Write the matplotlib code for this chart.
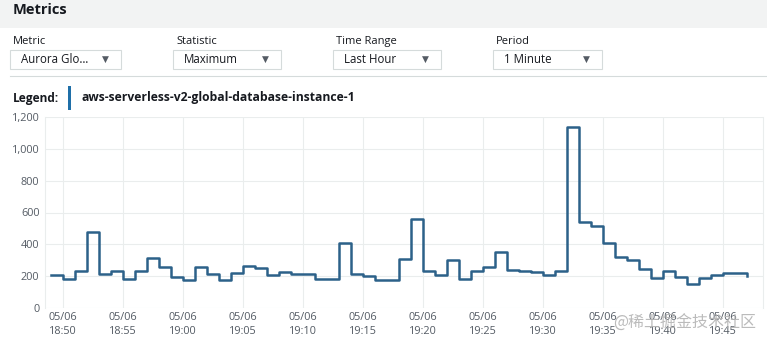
import matplotlib
matplotlib.use("Agg")
import matplotlib.pyplot as plt
import matplotlib.dates as mdates
from matplotlib.patches import Rectangle
import pandas as pd

# maximum value per minute, from 18:49 to 19:47
values = [210, 185, 232, 477, 212, 234, 182, 232, 314, 256,
          197, 174, 260, 214, 176, 222, 266, 251, 205, 228,
          216, 211, 182, 182, 410, 213, 199, 178, 178, 310,
          557, 230, 209, 301, 184, 234, 256, 354, 237, 230,
          224, 207, 230, 1139, 540, 517, 410, 320, 299, 245,
          186, 230, 193, 149, 186, 209, 222, 222, 200]
start_time = "2023-05-06 18:49"
y_ticks = [0, 200, 400, 600, 800, 1000, 1200]
series_name = "aws-serverless-v2-global-database-instance-1"
controls = [("Metric", "Aurora Glo…"), ("Statistic", "Maximum"),
            ("Time Range", "Last Hour"), ("Period", "1 Minute")]

plt.rcParams['font.family'] = ['Open Sans', 'DejaVu Sans']

W, H = 767, 345
fig = plt.figure(figsize=(W / 100, H / 100), dpi=100)
fig.patch.set_facecolor("white")


def fx(x):
    return x / W


def fy(y):
    return 1 - y / H


# header band
fig.patches.append(Rectangle((0, fy(28)), 1, 28 / H, transform=fig.transFigure,
                             facecolor="#f2f3f3", edgecolor="none", zorder=0))
fig.text(fx(13), fy(10.5), "Metrics", fontsize=10.5, fontweight="bold",
         color="#16191f", va="center")

# dropdown controls
box_x = [10, 173, 333, 493]
box_w = [111, 108, 108, 109]
for (label, choice), x0, w in zip(controls, box_x, box_w):
    fig.text(fx(x0 + 3), fy(41.5), label, fontsize=8, color="#16191f", va="center")
    fig.patches.append(Rectangle((fx(x0), fy(69)), w / W, 19 / H,
                                 transform=fig.transFigure, facecolor="white",
                                 edgecolor="#d5dbdb", lw=0.8))
    fig.text(fx(x0 + 11), fy(59.5), choice, fontsize=8.3, color="#16191f", va="center")
    fig.text(fx(x0 + w - 16), fy(59.5), "▼", fontsize=6.5, color="#545b64",
             va="center", ha="center", family="DejaVu Sans")

# separator
fig.lines.append(plt.Line2D([fx(10), 1], [fy(76), fy(76)], transform=fig.transFigure,
                            color="#d5dbdb", lw=0.8))

# legend row
fig.text(fx(13), fy(98), "Legend:", fontsize=8.6, fontweight="bold",
         color="#16191f", va="center")
fig.patches.append(Rectangle((fx(68), fy(110)), 3 / W, 24 / H, transform=fig.transFigure,
                             facecolor="#1f6fa8", edgecolor="none"))
fig.text(fx(82), fy(97.5), series_name, fontsize=8.7, fontweight="bold",
         color="#16191f", va="center")

# chart
times = pd.date_range(start_time, periods=len(values), freq="min")
ax = fig.add_axes([fx(45), fy(308), (763 - 45) / W, (308 - 117) / H])
ax.plot(times, values, drawstyle="steps-post", color="#2c6189", lw=1.8)

ax.set_ylim(0, 1200)
ax.set_yticks(y_ticks)
ax.set_yticklabels([f"{v:,}" for v in y_ticks])
ax.set_xlim(pd.Timestamp("2023-05-06 18:48:30"), pd.Timestamp("2023-05-06 19:48:20"))
ax.xaxis.set_major_locator(mdates.MinuteLocator(byminute=range(0, 60, 5)))
ax.xaxis.set_major_formatter(mdates.DateFormatter("%m/%d\n%H:%M"))

ax.grid(True, color="#eaeded", lw=0.8)
ax.set_axisbelow(True)
for side in ["top", "bottom"]:
    ax.spines[side].set_visible(False)
for side in ["left", "right"]:
    ax.spines[side].set_color("#eaeded")
    ax.spines[side].set_linewidth(0.8)
ax.tick_params(length=0, labelsize=7.8, labelcolor="#545b64")
ax.tick_params(axis="x", pad=3)
ax.tick_params(axis="y", pad=4)
for lbl in ax.get_xticklabels():
    lbl.set_linespacing(1.35)

# watermark
fig.text(fx(613), fy(323), "@稀土掘金技术社区", fontsize=11.5, color="#b4b4b4",
         va="center", family=["Noto Sans CJK SC", "DejaVu Sans"], alpha=0.9)

fig.savefig("out.png", dpi=100)
